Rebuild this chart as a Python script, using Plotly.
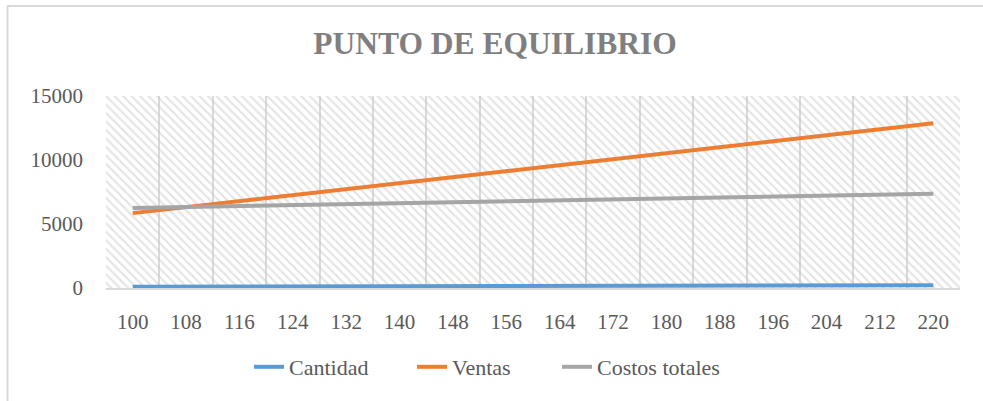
import plotly.graph_objects as go

cantidad = [100, 108, 116, 124, 132, 140, 148, 156, 164, 172, 180, 188, 196, 204, 212, 220]
ventas = [5850, 6318, 6786, 7254, 7722, 8190, 8658, 9126, 9594, 10062, 10530, 10998, 11466, 11934, 12402, 12870]
costos_totales = [6250, 6325, 6399, 6474, 6549, 6623, 6698, 6772, 6847, 6922, 6996, 7071, 7146, 7220, 7295, 7370]
tick_labels = [str(v) for v in cantidad]
y_ticks = [0, 5000, 10000, 15000]
y_tick_labels = ["0", "5000", "10000", "15000"]

FONT = "Liberation Serif"
TXT = "#595959"
W, H = 983, 401
L, R, T, B = 106, 23, 96, 113
PW, PH = W - L - R, H - T - B

step = cantidad[1] - cantidad[0]
x_lo = cantidad[0] - step / 2
x_hi = cantidad[-1] + step / 2
y_lo, y_hi = y_ticks[0], y_ticks[-1]

fig = go.Figure()

# patterned plot-area background (transparent background so gridlines show)
fig.add_trace(go.Scatter(
    x=[x_lo, x_hi, x_hi, x_lo, x_lo], y=[y_lo, y_lo, y_hi, y_hi, y_lo],
    mode="lines", line=dict(width=0), fill="toself",
    fillcolor="rgba(0,0,0,0)",
    fillpattern=dict(shape="\\", fgcolor="#c8c8c8", bgcolor="rgba(0,0,0,0)",
                     size=6, solidity=0.36),
    showlegend=False, hoverinfo="skip",
))

series = [("Cantidad", cantidad, "#5B9BD5", "legend", 237),
          ("Ventas", ventas, "#ED7D31", "legend2", 400),
          ("Costos totales", costos_totales, "#A5A5A5", "legend3", 545)]
legend_y = -(367 - (H - B)) / PH
legend_defs = {}
for name, vals, col, lg, px in series:
    fig.add_trace(go.Scatter(x=cantidad, y=vals, name=name, mode="lines", legend=lg,
                             line=dict(color=col, width=4)))
    legend_defs[lg] = dict(orientation="h", x=(px - L + 12) / PW, xanchor="left",
                           y=legend_y, yanchor="middle", bgcolor="rgba(0,0,0,0)",
                           font=dict(family=FONT, size=22, color=TXT))

fig.update_layout(
    width=W, height=H, autosize=False,
    margin=dict(l=L, r=R, t=T, b=B, autoexpand=False),
    paper_bgcolor="white", plot_bgcolor="white",
    font=dict(family=FONT, size=21, color=TXT),
    title=dict(text="<b>PUNTO DE EQUILIBRIO</b>", x=495 / W, xanchor="center",
               y=1 - 43 / H, yanchor="middle",
               font=dict(family=FONT, size=31.5, color="#7f7f7f")),
    shapes=[
        dict(type="line", xref="paper", yref="paper", x0=-(L - 7) / PW, x1=(W - L) / PW,
             y0=1 + (T - 6) / PH, y1=1 + (T - 6) / PH, line=dict(color="#d9d9d9", width=2)),
        dict(type="line", xref="paper", yref="paper", x0=-(L - 7.5) / PW, x1=-(L - 7.5) / PW,
             y0=-B / PH, y1=1 + (T - 6) / PH, line=dict(color="#d9d9d9", width=2)),
    ],
    **legend_defs,
)

fig.update_xaxes(
    range=[x_lo, x_hi], tickvals=cantidad, ticktext=tick_labels,
    showgrid=False, zeroline=False, ticks="", automargin=False,
    showline=True, linecolor="#d9d9d9", linewidth=1.5,
    ticklabelstandoff=14,
    minor=dict(tick0=x_lo, dtick=step, showgrid=True, gridcolor="#d9d9d9", gridwidth=1.5),
    fixedrange=True,
)
fig.update_yaxes(
    range=[y_lo, y_hi], tickvals=y_ticks, ticktext=y_tick_labels,
    showgrid=False, zeroline=False, ticks="", ticklabelstandoff=22, automargin=False,
    fixedrange=True,
)

fig.write_html("out.html", config={"displayModeBar": False},
               post_script="document.body.style.margin='0';")
